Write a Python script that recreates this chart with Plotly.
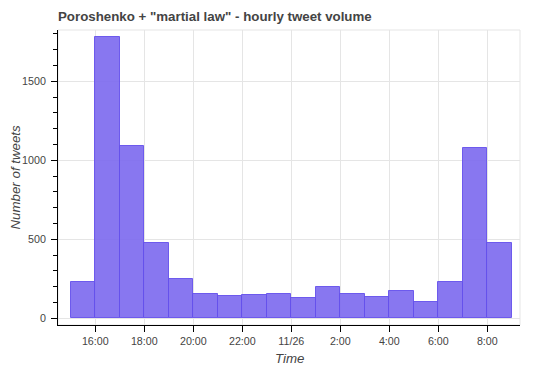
import plotly.graph_objects as go
import pandas as pd

# Data: hourly tweet counts (hour start times)
hour_starts = pd.date_range("2018-11-25 15:00", "2018-11-26 08:00", freq="h")
counts = [230, 1782, 1090, 478, 247, 156, 143, 147, 154, 127,
          196, 154, 137, 175, 101, 230, 1078, 478]

tick_times = pd.date_range("2018-11-25 16:00", "2018-11-26 08:00", freq="2h")
tick_labels = ["16:00", "18:00", "20:00", "22:00", "11/26",
               "2:00", "4:00", "6:00", "8:00"]

title_text = 'Poroshenko + "martial law" - hourly tweet volume'
x_title = "Time"
y_title = "Number of tweets"

bar_width_ms = 3600 * 1000
centers = hour_starts + pd.Timedelta(minutes=30)

fig = go.Figure()
fig.add_trace(go.Bar(
    x=centers, y=counts, width=[bar_width_ms] * len(counts),
    marker=dict(color="rgba(123,104,238,0.9)",
                line=dict(color="rgba(100,80,235,0.9)", width=1)),
    hoverinfo="skip",
))

# The page body has an 8px default margin, so the figure is 8px smaller
fig.update_layout(
    width=542, height=362,
    margin=dict(l=50, r=30, t=22, b=45),
    plot_bgcolor="white", paper_bgcolor="white",
    showlegend=False, bargap=0,
    font=dict(family="Liberation Sans, Arial, Helvetica, sans-serif", color="#444"),
    title=dict(text="<b>" + title_text + "</b>", x=0, xref="paper", xanchor="left",
               y=1, yref="container", yanchor="top", pad=dict(t=4),
               font=dict(size=13.3, color="#444")),
    shapes=[dict(type="rect", xref="paper", yref="paper", x0=0, x1=1, y0=0, y1=1,
                 line=dict(color="#e5e5e5", width=1), layer="below")],
    annotations=[
        dict(text="<i>" + x_title + "</i>", xref="paper", yref="paper", x=0.5, y=0,
             xanchor="center", yanchor="middle", yshift=-33, showarrow=False,
             font=dict(size=13.3, color="#444")),
        dict(text="<i>" + y_title + "</i>", xref="paper", yref="paper", x=0, y=0.5,
             xanchor="center", yanchor="middle", xshift=-43, textangle=-90,
             showarrow=False, font=dict(size=13.3, color="#444")),
    ],
)

fig.update_xaxes(
    type="date", automargin=False,
    range=[pd.Timestamp("2018-11-25 14:28:40"), pd.Timestamp("2018-11-26 09:20:00")],
    tickvals=tick_times, ticktext=tick_labels,
    ticks="outside", ticklen=6, tickcolor="black", tickwidth=1,
    showline=True, linecolor="black", linewidth=1,
    showgrid=True, gridcolor="#e5e5e5", gridwidth=1,
    zeroline=False,
    tickfont=dict(size=10.7, color="#444"),
)

fig.update_yaxes(
    automargin=False,
    range=[-42, 1825],
    tickvals=[0, 500, 1000, 1500],
    ticks="outside", ticklen=6, tickcolor="black", tickwidth=1,
    ticklabelstandoff=3,
    minor=dict(dtick=100, tick0=0, ticks="outside", ticklen=4, tickcolor="black", showgrid=False),
    showline=True, linecolor="black", linewidth=1,
    showgrid=True, gridcolor="#e5e5e5", gridwidth=1,
    zeroline=False,
    tickfont=dict(size=10.7, color="#444"),
)

fig.write_html("out.html")
